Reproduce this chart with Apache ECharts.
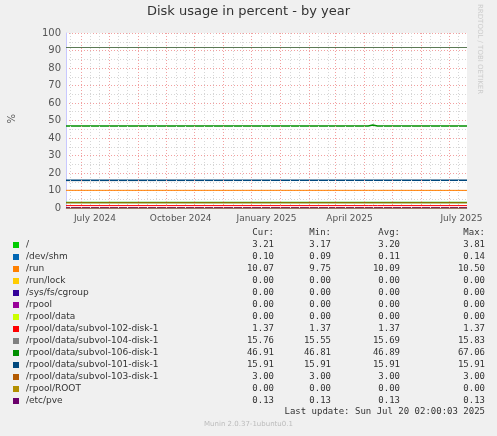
<!DOCTYPE html>
<html><head><meta charset="utf-8">
<script src="https://cdn.jsdelivr.net/npm/echarts@6/dist/echarts.min.js"></script>
<style>html,body{margin:0;padding:0;background:#F0F0F0}#c{width:497px;height:436px}</style>
</head><body><div id="c"></div>
<script>
const names = ['/', '/dev/shm', '/run', '/run/lock', '/sys/fs/cgroup', '/rpool', '/rpool/data',
 '/rpool/data/subvol-102-disk-1', '/rpool/data/subvol-104-disk-1', '/rpool/data/subvol-106-disk-1',
 '/rpool/data/subvol-101-disk-1', '/rpool/data/subvol-103-disk-1', '/rpool/ROOT', '/etc/pve'];
const colors = ['#00CC00','#0066B3','#FF8000','#FFCC00','#330099','#990099','#CCFF00','#FF0000','#808080','#008F00','#00487D','#B35A00','#B38F00','#6B006B'];
const curV = ['3.21','0.10','10.07','0.00','0.00','0.00','0.00','1.37','15.76','46.91','15.91','3.00','0.00','0.13'];
const minV = ['3.17','0.09','9.75','0.00','0.00','0.00','0.00','1.37','15.55','46.81','15.91','3.00','0.00','0.13'];
const avgV = ['3.20','0.11','10.09','0.00','0.00','0.00','0.00','1.37','15.69','46.89','15.91','3.00','0.00','0.13'];
const maxV = ['3.81','0.14','10.50','0.00','0.00','0.00','0.00','1.37','15.83','67.06','15.91','3.00','0.00','0.13'];
const times = ['2024-05-16','2024-09-01','2025-01-01','2025-04-05','2025-04-10','2025-04-15','2025-07-20'];
const seriesVals = [
 [3.20,3.20,3.20,3.20,3.20,3.20,3.21],
 [0.10,0.11,0.11,0.11,0.11,0.11,0.10],
 [10.10,10.09,10.09,10.09,10.09,10.09,10.07],
 [0,0,0,0,0,0,0],[0,0,0,0,0,0,0],[0,0,0,0,0,0,0],[0,0,0,0,0,0,0],
 [1.37,1.37,1.37,1.37,1.37,1.37,1.37],
 [15.60,15.65,15.70,15.72,15.72,15.74,15.76],
 [46.88,46.89,46.89,46.90,47.40,46.90,46.91],
 [15.91,15.91,15.91,15.91,15.91,15.91,15.91],
 [3.00,3.00,3.00,3.00,3.00,3.00,3.00],
 [0,0,0,0,0,0,0],
 [0.13,0.13,0.13,0.13,0.13,0.13,0.13]
];
const warnLine = 92;
const monthStarts = ['2024-06-01','2024-07-01','2024-08-01','2024-09-01','2024-10-01','2024-11-01','2024-12-01','2025-01-01','2025-02-01','2025-03-01','2025-04-01','2025-05-01','2025-06-01','2025-07-01'];
const tickLabelPos = ['2024-06-16','2024-09-16','2024-12-17','2025-03-16','2025-07-14'];
const tickLabels = ['July 2024','October 2024','January 2025','April 2025','July 2025'];

const T = s => new Date(s + 'T00:00:00Z').getTime();
const minorLines = [];
monthStarts.forEach(m => { const d = T(m); [10,20].forEach(k => { const t = d + k*86400000; if (t < T('2025-07-20')) minorLines.push(t); }); });
minorLines.push(T('2024-05-21'));
const labelVals = tickLabelPos.map(T);

const series = names.map((n,i) => ({
  type:'line', name:n, showSymbol:false, silent:true, z: 3 + (i===9?1:0),
  lineStyle:{color:colors[i], width: i===9||i===0||i===10 ? 1.5 : 1},
  data: times.map((t,j) => [T(t), seriesVals[i][j]])
}));
series.push({type:'line', data:[], silent:true, z:1, markLine:{symbol:'none', silent:true, label:{show:false},
  data: [].concat(
    minorLines.map(t => ({xAxis:t, lineStyle:{color:'#d6d6d6', type:[1,2], width:1}})),
    monthStarts.map(m => ({xAxis:T(m), lineStyle:{color:'#f2a0a0', type:[1,2], width:1}})),
    [{yAxis:warnLine, lineStyle:{color:'#5b7a55', type:'solid', width:1}}]
  )}});

const g = [];
g.push({type:'text', left:'center', top:5, style:{text:'Disk usage in percent - by year', font:'13px "DejaVu Sans"', fill:'#333'}});
g.push({type:'text', x:483, y:4, rotation:-Math.PI/2, style:{text:'RRDTOOL / TOBI OETIKER', font:'7px "DejaVu Sans"', fill:'#ccc'}});
g.push({type:'text', x:15, y:114, rotation:-Math.PI/2, style:{text:'%', font:'10px "DejaVu Sans"', fill:'#555'}});
const hy = 233;
[['Cur:',274],['Min:',331],['Avg:',400],['Max:',485]].forEach(([t,x]) => g.push({type:'text', x:x, y:hy, style:{text:t, font:'9px "DejaVu Sans Mono"', fill:'#333', align:'right', verticalAlign:'middle'}}));
names.forEach((n,i) => {
  const y = 245 + i*12;
  g.push({type:'rect', shape:{x:13, y:y-3, width:6, height:6}, style:{fill:colors[i]}});
  g.push({type:'text', x:26, y:y, style:{text:n, font:'9px "DejaVu Sans"', fill:'#333', verticalAlign:'middle'}});
  [[curV,274],[minV,331],[avgV,400],[maxV,485]].forEach(([a,x]) => g.push({type:'text', x:x, y:y, style:{text:a[i], font:'9px "DejaVu Sans Mono"', fill:'#333', align:'right', verticalAlign:'middle'}}));
});
g.push({type:'text', x:485, y:412, style:{text:'Last update: Sun Jul 20 02:00:03 2025', font:'9px "DejaVu Sans Mono"', fill:'#333', align:'right', verticalAlign:'middle'}});
g.push({type:'text', left:'center', top:421, style:{text:'Munin 2.0.37-1ubuntu0.1', font:'7px "DejaVu Sans"', fill:'#bbb'}});

const chart = echarts.init(document.getElementById('c'), null, {renderer:'canvas'});
chart.setOption({
  animation:false, backgroundColor:'#F0F0F0',
  grid:{left:66, right:30, top:33, bottom:228, backgroundColor:'#fff', show:true, borderWidth:0},
  xAxis:{type:'value', min:T('2024-05-16'), max:T('2025-07-20'),
    axisLine:{lineStyle:{color:'#c8c8ff'}}, axisTick:{show:false}, splitLine:{show:false},
    axisLabel:{customValues:labelVals, formatter:(v) => { const i = labelVals.indexOf(v); return i>=0 ? tickLabels[i] : ''; },
      color:'#555', fontSize:9, fontFamily:'DejaVu Sans', margin:6, hideOverlap:false, showMinLabel:true, showMaxLabel:true}},
  yAxis:{type:'value', min:0, max:100, interval:10,
    axisLine:{show:true, lineStyle:{color:'#c8c8ff'}}, axisTick:{show:false},
    axisLabel:{color:'#555', fontSize:10, fontFamily:'DejaVu Sans', margin:5},
    splitLine:{lineStyle:{color:'#f2a0a0', type:[1,2]}},
    minorTick:{show:false, splitNumber:2}, minorSplitLine:{show:true, lineStyle:{color:'#d6d6d6', type:[1,2]}}},
  series: series,
  graphic: g
});
</script></body></html>
